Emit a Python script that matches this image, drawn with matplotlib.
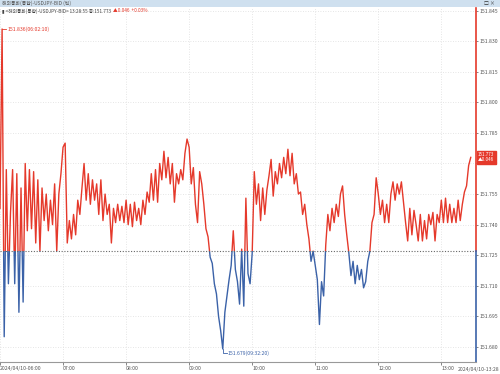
import matplotlib
matplotlib.use("Agg")
import matplotlib.pyplot as plt
from matplotlib.patches import Rectangle
import numpy as np

plt.rcParams['font.family'] = ['Noto Sans CJK KR', 'DejaVu Sans']

# USDJPY bid, 2-minute samples (06:00 .. 13:28)
h06 = [151.748, 151.836, 151.685, 151.767, 151.711, 151.746, 151.767, 151.711, 151.765, 151.697,
       151.758, 151.702, 151.770, 151.737, 151.767, 151.738, 151.766, 151.731, 151.762, 151.727,
       151.758, 151.742, 151.755, 151.737, 151.752, 151.740, 151.760, 151.727, 151.755, 151.765]
h07 = [151.778, 151.780, 151.731, 151.742, 151.733, 151.745, 151.735, 151.752, 151.745, 151.758,
       151.770, 151.752, 151.765, 151.750, 151.762, 151.752, 151.760, 151.745, 151.762, 151.742,
       151.755, 151.745, 151.750, 151.731, 151.748, 151.741, 151.750, 151.742, 151.749, 151.741]
h08 = [151.752, 151.740, 151.750, 151.739, 151.751, 151.742, 151.748, 151.740, 151.752, 151.745,
       151.756, 151.751, 151.765, 151.752, 151.767, 151.751, 151.770, 151.762, 151.776, 151.763,
       151.773, 151.760, 151.770, 151.751, 151.765, 151.760, 151.767, 151.762, 151.775, 151.782]
h09 = [151.778, 151.760, 151.768, 151.750, 151.741, 151.766, 151.760, 151.750, 151.738, 151.734,
       151.724, 151.721, 151.711, 151.706, 151.695, 151.688, 151.679, 151.697, 151.705, 151.713,
       151.720, 151.737, 151.718, 151.712, 151.701, 151.728, 151.700, 151.753, 151.716, 151.711]
h10 = [151.726, 151.766, 151.750, 151.760, 151.742, 151.758, 151.745, 151.757, 151.764, 151.772,
       151.754, 151.766, 151.760, 151.770, 151.763, 151.773, 151.765, 151.777, 151.764, 151.775,
       151.760, 151.765, 151.755, 151.756, 151.745, 151.750, 151.740, 151.733, 151.722, 151.727]
h11 = [151.720, 151.713, 151.691, 151.712, 151.705, 151.730, 151.745, 151.737, 151.748, 151.741,
       151.750, 151.744, 151.755, 151.759, 151.745, 151.735, 151.726, 151.715, 151.722, 151.711,
       151.720, 151.713, 151.718, 151.709, 151.712, 151.722, 151.727, 151.741, 151.745, 151.763]
h12 = [151.755, 151.745, 151.752, 151.741, 151.750, 151.741, 151.755, 151.761, 151.752, 151.760,
       151.755, 151.761, 151.751, 151.741, 151.732, 151.748, 151.735, 151.747, 151.740, 151.732,
       151.745, 151.732, 151.742, 151.733, 151.745, 151.740, 151.746, 151.732, 151.745, 151.741]
h13 = [151.752, 151.741, 151.753, 151.741, 151.750, 151.741, 151.748, 151.741, 151.752, 151.742,
       151.750, 151.756, 151.759, 151.769, 151.773]

prev_close = 151.727
last_price = 151.773
hour_labels = ["2024/04/10-06:00", "07:00", "08:00", "09:00", "10:00", "11:00", "12:00", "13:00"]
y_ticks = [151.680, 151.695, 151.710, 151.725, 151.740, 151.755, 151.770,
           151.785, 151.800, 151.815, 151.830, 151.845]

prices = np.array(h06 + h07 + h08 + h09 + h10 + h11 + h12 + h13)
minutes = np.arange(len(prices)) * 2

RED = "#e5392b"
BLUE = "#3b62a8"
GREY = "#555555"
W, H = 500, 374
x_max = 453
y_lo, y_hi = 151.6726, 151.8463
fs = 3.7

fig = plt.figure(figsize=(W / 100, H / 100), dpi=100)
ax = fig.add_axes([0, 12 / H, 476 / W, (362 - 8) / H])
ax.set_xlim(0, x_max)
ax.set_ylim(y_lo, y_hi)

# price line: red above previous close, blue below
for col, rect in [(RED, Rectangle((0, prev_close), x_max, 1, transform=ax.transData)),
                  (BLUE, Rectangle((0, prev_close - 1), x_max, 1, transform=ax.transData))]:
    ln, = ax.plot(minutes, prices, color=col, lw=1.0)
    ln.set_clip_path(rect)

ax.axhline(prev_close, color="#666666", lw=0.8, ls=(0, (1, 1.5)))
ax.grid(True, color="#dddddd", lw=0.6, ls=(0, (1, 2)))

for s in ["top", "left", "right"]:
    ax.spines[s].set_visible(False)
ax.spines["bottom"].set_color("#999999")
ax.spines["bottom"].set_linewidth(0.8)

frac = (prev_close - y_lo) / (y_hi - y_lo)
ax.plot([1, 1], [frac, 1], transform=ax.transAxes, color=RED, lw=1.2, clip_on=False)
ax.plot([1, 1], [0, frac], transform=ax.transAxes, color=BLUE, lw=1.2, clip_on=False)

ax.yaxis.tick_right()
ax.set_yticks(y_ticks)
ax.set_yticklabels(["%.3f" % v for v in y_ticks])
ax.tick_params(axis="y", labelsize=fs, colors=GREY, length=1.5, width=0.5, pad=0.8)
ax.set_xticks(np.arange(0, 421, 60))
ax.set_xticklabels(hour_labels, ha="left")
ax.tick_params(axis="x", labelsize=fs, colors=GREY, length=2, width=0.5, pad=1)

# high / low markers
i_hi, i_lo = int(np.argmax(prices)), int(np.argmin(prices))
ax.plot([minutes[i_hi], minutes[i_hi] + 4], [prices[i_hi]] * 2, color=RED, lw=0.6)
ax.text(minutes[i_hi] + 5, prices[i_hi], "151.836(06:02:10)", color=RED,
        fontsize=fs, va="center", ha="left")
ax.plot([minutes[i_lo], minutes[i_lo], minutes[i_lo] + 4],
        [prices[i_lo], prices[i_lo] - 0.002, prices[i_lo] - 0.002], color=BLUE, lw=0.6)
ax.text(minutes[i_lo] + 5, prices[i_lo] - 0.002, "151.679(09:32:20)", color=BLUE,
        fontsize=fs, va="center", ha="left")

# current price tag
ax.text(1.004, (last_price - y_lo) / (y_hi - y_lo), "151.773\n▲0.046", transform=ax.transAxes,
        fontsize=3.3, color="white", va="center", ha="left", linespacing=0.95, zorder=10,
        bbox=dict(boxstyle="square,pad=0.3", fc=RED, ec=RED), clip_on=False)

fig.text(0.998, 1 - 369 / H, "2024/04/10-13:28", fontsize=fs, color=GREY, ha="right",
         va="center", zorder=10, bbox=dict(boxstyle="square,pad=0.15", fc="white", ec="none"))

# window title bar and info line
fig.patches.append(Rectangle((0, 1 - 7 / H), 1, 7 / H, transform=fig.transFigure,
                             fc="#cfe0ef", ec="none"))
fig.text(0.004, 1 - 3.5 / H, "해외통화(통합)-USDJPY-BID (틱)", fontsize=3.5, color=GREY,
         va="center")
fig.text(0.99, 1 - 3.5 / H, "□ ×", fontsize=3.5, color="#333333", va="center", ha="right")
info = fig.text(0.004, 1 - 11 / H, "▮ <해외통화(통합)-USDJPY-BID> 13:28:55 종:151.773",
                fontsize=3.4, color="#444444", va="center")
fig.canvas.draw()
x_end = fig.transFigure.inverted().transform(info.get_window_extent().p1)[0]
fig.text(x_end + 0.004, 1 - 11 / H, "▲0.046  +0.03%", fontsize=3.4, color=RED, va="center")

fig.savefig("out.png", dpi=100)
